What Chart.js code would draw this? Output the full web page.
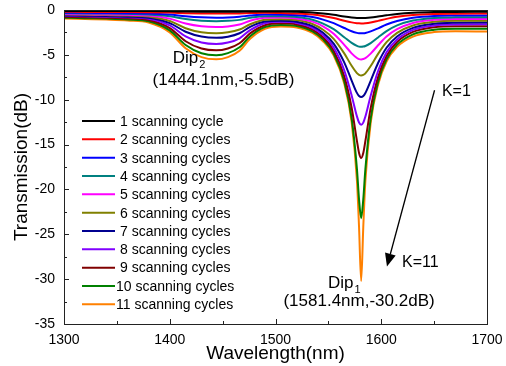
<!DOCTYPE html>
<html><head><meta charset="utf-8">
<script src="https://cdn.jsdelivr.net/npm/chart.js@4.4.1/dist/chart.umd.min.js"></script>
<style>html,body{margin:0;padding:0;background:#fff;}canvas{display:block;}</style>
</head><body>
<canvas id="c" width="506" height="366"></canvas>
<script>
const FONT = '"Liberation Sans", Arial, Helvetica, sans-serif';

// Wavelength sample points (nm)
const wavelengths = [1300,1320,1340,1360,1380,1400,1415,1430,1444,1455,1466,1476,1490,1505,1520,1535,1545,1555,1565,1572,1577,1579,1581,1583,1585,1590,1597,1605,1615,1630,1650,1670,1700];

// Transmission (dB) for each number of scanning cycles
const cycle1  = [-0.10,-0.10,-0.11,-0.12,-0.12,-0.14,-0.17,-0.19,-0.20,-0.19,-0.19,-0.17,-0.16,-0.17,-0.20,-0.28,-0.39,-0.54,-0.72,-0.83,-0.89,-0.90,-0.90,-0.90,-0.89,-0.84,-0.73,-0.59,-0.44,-0.31,-0.23,-0.21,-0.20];
const cycle2  = [-0.20,-0.21,-0.22,-0.23,-0.25,-0.29,-0.35,-0.39,-0.40,-0.40,-0.38,-0.34,-0.31,-0.34,-0.38,-0.50,-0.67,-0.90,-1.20,-1.38,-1.47,-1.49,-1.50,-1.50,-1.48,-1.39,-1.21,-0.99,-0.76,-0.55,-0.44,-0.41,-0.40];
const cycle3  = [-0.30,-0.32,-0.33,-0.35,-0.38,-0.51,-0.70,-0.82,-0.85,-0.83,-0.75,-0.62,-0.50,-0.52,-0.58,-0.79,-1.07,-1.47,-2.01,-2.37,-2.55,-2.59,-2.60,-2.59,-2.56,-2.38,-2.04,-1.62,-1.22,-0.86,-0.66,-0.61,-0.60];
const cycle4  = [-0.35,-0.38,-0.40,-0.43,-0.49,-0.69,-1.01,-1.20,-1.25,-1.21,-1.10,-0.87,-0.69,-0.70,-0.79,-1.08,-1.51,-2.14,-3.03,-3.67,-4.00,-4.08,-4.10,-4.08,-4.01,-3.69,-3.06,-2.36,-1.72,-1.18,-0.89,-0.82,-0.80];
const cycle5  = [-0.45,-0.48,-0.50,-0.54,-0.61,-0.96,-1.51,-1.82,-1.90,-1.83,-1.61,-1.20,-0.87,-0.83,-0.94,-1.30,-1.83,-2.65,-3.88,-4.83,-5.35,-5.47,-5.51,-5.47,-5.36,-4.86,-3.93,-2.95,-2.13,-1.44,-1.10,-1.01,-1.00];
const cycle6  = [-0.50,-0.54,-0.57,-0.62,-0.73,-1.23,-2.03,-2.49,-2.60,-2.49,-2.18,-1.59,-1.09,-1.02,-1.12,-1.56,-2.20,-3.21,-4.83,-6.22,-7.04,-7.23,-7.30,-7.24,-7.06,-6.25,-4.89,-3.59,-2.55,-1.72,-1.32,-1.21,-1.20];
const cycle7  = [-0.60,-0.64,-0.68,-0.74,-0.87,-1.46,-2.42,-2.96,-3.10,-2.97,-2.59,-1.88,-1.29,-1.19,-1.31,-1.80,-2.54,-3.75,-5.84,-7.86,-9.24,-9.58,-9.70,-9.59,-9.25,-7.89,-5.91,-4.21,-2.95,-1.99,-1.53,-1.42,-1.40];
const cycle8  = [-0.65,-0.70,-0.74,-0.81,-0.97,-1.72,-2.95,-3.63,-3.80,-3.63,-3.15,-2.24,-1.47,-1.32,-1.44,-1.98,-2.80,-4.18,-6.72,-9.52,-11.86,-12.54,-12.79,-12.55,-11.88,-9.56,-6.80,-4.72,-3.28,-2.22,-1.72,-1.61,-1.60];
const cycle9  = [-0.75,-0.80,-0.85,-0.93,-1.12,-2.02,-3.48,-4.30,-4.50,-4.29,-3.71,-2.61,-1.70,-1.49,-1.61,-2.18,-3.05,-4.53,-7.38,-10.89,-14.58,-15.94,-16.50,-15.95,-14.60,-10.94,-7.47,-5.12,-3.56,-2.44,-1.92,-1.80,-1.80];
const cycle10 = [-0.85,-0.91,-0.96,-1.05,-1.26,-2.27,-3.90,-4.82,-5.05,-4.81,-4.16,-2.93,-1.90,-1.66,-1.78,-2.38,-3.28,-4.84,-7.91,-12.04,-17.70,-21.10,-23.20,-21.11,-17.73,-12.11,-8.02,-5.49,-3.86,-2.71,-2.19,-2.08,-2.10];
const cycle11 = [-0.95,-1.01,-1.07,-1.17,-1.40,-2.49,-4.26,-5.25,-5.50,-5.25,-4.54,-3.21,-2.10,-1.83,-1.95,-2.56,-3.48,-5.06,-8.19,-12.50,-18.99,-24.19,-30.20,-24.20,-19.02,-12.57,-8.32,-5.75,-4.11,-2.96,-2.46,-2.36,-2.40];

const seriesLabels = ['1 scanning cycle','2 scanning cycles','3 scanning cycles','4 scanning cycles','5 scanning cycles','6 scanning cycles','7 scanning cycles','8 scanning cycles','9 scanning cycles','10 scanning cycles','11 scanning cycles'];
const seriesValues = [cycle1,cycle2,cycle3,cycle4,cycle5,cycle6,cycle7,cycle8,cycle9,cycle10,cycle11];
const seriesColors = ['#000000','#ff0000','#0000ff','#008080','#ff00ff','#808000','#000090','#8000ff','#800000','#008000','#ff8000'];

const xTickValues = [1300,1400,1500,1600,1700];
const yTickValues = [0,-5,-10,-15,-20,-25,-30,-35];

// Annotation anchors in data coordinates (text baselines)
const dip2Label = {x:1402.8, y:-5.95, name:'Dip', sub:'2', coord:'(1444.1nm,-5.5dB)', cx:1450.8, cy:-8.33};
const dip1Label = {x:1549.6, y:-31.0, name:'Dip', sub:'1', coord:'(1581.4nm,-30.2dB)', cx:1579, cy:-33.0};
const kStart = {x:1657.4, y:-9.6, text:'K=1'};
const kEnd = {x:1619.6, y:-28.7, text:'K=11'};
const arrowFrom = {x:1650.4, y:-8.95};
const arrowTo = {x:1605.4, y:-28.6};

const datasets = seriesValues.map((vals, i) => ({
  label: seriesLabels[i],
  data: wavelengths.map((w, j) => ({x: w, y: vals[j]})),
  borderColor: seriesColors[i],
  backgroundColor: seriesColors[i],
  borderWidth: 2,
  pointRadius: 0,
  cubicInterpolationMode: 'monotone',
  fill: false
}));

const framePlugin = {
  id: 'frame',
  afterDatasetsDraw(chart) {
    const {ctx, chartArea: a, scales: {x, y}} = chart;
    ctx.save();
    ctx.strokeStyle = '#222';
    ctx.lineWidth = 1;
    ctx.strokeRect(Math.round(a.left) + 0.5, Math.round(a.top) + 0.5, Math.round(a.right - a.left), Math.round(a.bottom - a.top));
    ctx.beginPath();
    for (let v = -35; v <= 0.001; v += 2.5) {
      const py = Math.round(y.getPixelForValue(v)) + 0.5;
      const len = (Math.abs(v % 5) < 0.01) ? 5 : 3;
      ctx.moveTo(a.left, py); ctx.lineTo(a.left + len, py);
    }
    for (let v = 1300; v <= 1700; v += 50) {
      const px = Math.round(x.getPixelForValue(v)) + 0.5;
      const len = (v % 100 === 0) ? 5 : 3;
      ctx.moveTo(px, a.bottom); ctx.lineTo(px, a.bottom - len);
    }
    ctx.stroke();

    // legend
    ctx.font = '14px ' + FONT;
    ctx.textBaseline = 'middle';
    ctx.textAlign = 'left';
    seriesLabels.forEach((lab, i) => {
      const ly = a.top + 111 + i * 18.33;
      ctx.strokeStyle = seriesColors[i];
      ctx.lineWidth = 2;
      ctx.beginPath();
      ctx.moveTo(a.left + 18, ly); ctx.lineTo(a.left + 51, ly);
      ctx.stroke();
      ctx.fillStyle = '#000';
      ctx.fillText(lab, a.left + (i >= 9 ? 52 : 56), ly + 1);
    });

    // annotations
    ctx.fillStyle = '#000';
    ctx.textBaseline = 'alphabetic';
    const drawDip = (d) => {
      ctx.font = '17px ' + FONT;
      ctx.textAlign = 'left';
      const px = x.getPixelForValue(d.x), py = y.getPixelForValue(d.y);
      ctx.fillText(d.name, px, py);
      const w = ctx.measureText(d.name).width;
      ctx.font = '11px ' + FONT;
      ctx.fillText(d.sub, px + w + 1, py + 5);
      ctx.font = '17px ' + FONT;
      ctx.textAlign = 'center';
      ctx.fillText(d.coord, x.getPixelForValue(d.cx), y.getPixelForValue(d.cy));
    };
    drawDip(dip2Label);
    drawDip(dip1Label);
    ctx.font = '16px ' + FONT;
    ctx.textAlign = 'left';
    ctx.fillText(kStart.text, x.getPixelForValue(kStart.x), y.getPixelForValue(kStart.y));
    ctx.fillText(kEnd.text, x.getPixelForValue(kEnd.x), y.getPixelForValue(kEnd.y));

    const x0 = x.getPixelForValue(arrowFrom.x), y0 = y.getPixelForValue(arrowFrom.y);
    const x1 = x.getPixelForValue(arrowTo.x), y1 = y.getPixelForValue(arrowTo.y);
    const ang = Math.atan2(y1 - y0, x1 - x0);
    const headLen = 13, headW = 5.5;
    const bx = x1 - headLen * Math.cos(ang), by = y1 - headLen * Math.sin(ang);
    ctx.strokeStyle = '#000';
    ctx.lineWidth = 1.3;
    ctx.beginPath(); ctx.moveTo(x0, y0); ctx.lineTo(bx, by); ctx.stroke();
    ctx.beginPath();
    ctx.moveTo(x1, y1);
    ctx.lineTo(bx + headW * Math.sin(ang), by - headW * Math.cos(ang));
    ctx.lineTo(bx - headW * Math.sin(ang), by + headW * Math.cos(ang));
    ctx.closePath(); ctx.fill();
    ctx.restore();
  }
};

new Chart(document.getElementById('c'), {
  type: 'line',
  data: { datasets },
  options: {
    responsive: false,
    animation: false,
    devicePixelRatio: 1,
    layout: { padding: {left: 0, right: 19, top: 10, bottom: 0}, autoPadding: false },
    plugins: { legend: {display: false}, tooltip: {enabled: false} },
    scales: {
      x: {
        type: 'linear', min: 1300, max: 1700,
        grid: {display: false, drawTicks: false},
        border: {display: false},
        afterBuildTicks: (s) => { s.ticks = xTickValues.map(v => ({value: v})); },
        afterFit: (s) => { s.height = 42; s.paddingLeft = 0; s.paddingRight = 0; },
        ticks: {color: '#000', font: {family: FONT, size: 14}, padding: 8, maxRotation: 0, autoSkip: false, callback: (v) => String(v)},
        title: {display: true, text: 'Wavelength(nm)', color: '#000', font: {family: FONT, size: 19}, padding: {top: 0, bottom: 1}}
      },
      y: {
        type: 'linear', min: -35, max: 0,
        grid: {display: false, drawTicks: false},
        border: {display: false},
        afterBuildTicks: (s) => { s.ticks = yTickValues.map(v => ({value: v})); },
        afterFit: (s) => { s.width = 64; s.paddingTop = 0; s.paddingBottom = 0; },
        ticks: {color: '#000', font: {family: FONT, size: 14}, padding: 9, autoSkip: false, callback: (v) => String(v)},
        title: {display: true, text: 'Transmission(dB)', color: '#000', font: {family: FONT, size: 19}, padding: {top: 10, bottom: 0}}
      }
    }
  },
  plugins: [framePlugin]
});
</script>
</body></html>
